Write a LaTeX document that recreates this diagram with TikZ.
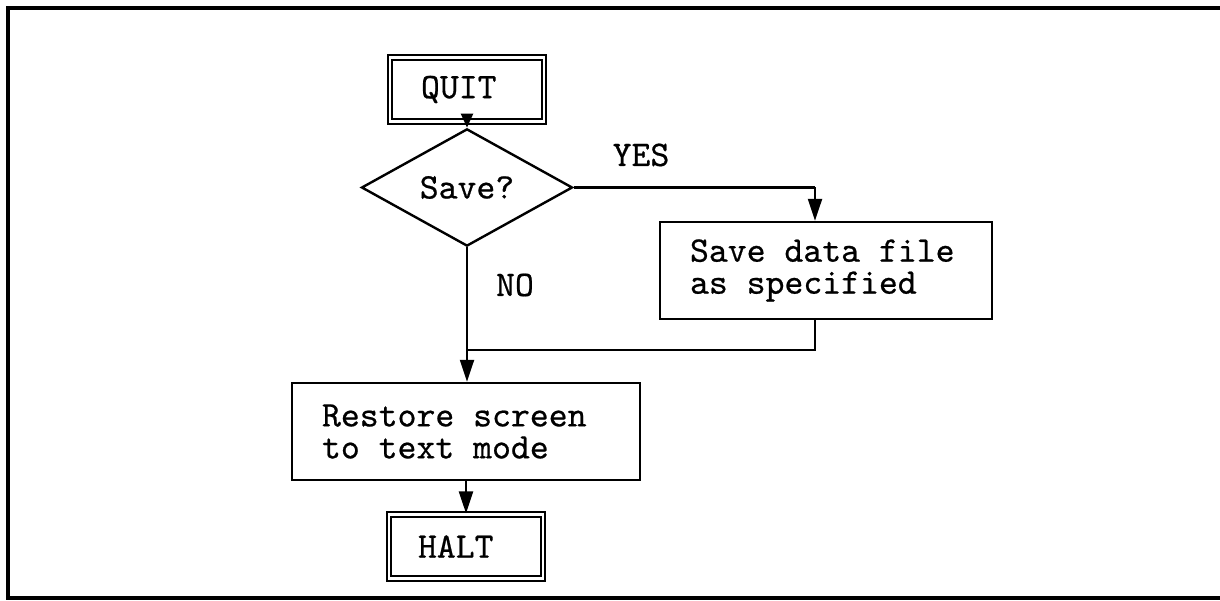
\documentclass[tikz,border=0pt]{standalone}
\usepackage{fontspec}
\newfontfamily\cour{lmmono10-regular.otf}[FakeBold=0.6, WordSpace={1,0,0}]
\usetikzlibrary{shapes.geometric,arrows.meta}

\tikzset{
  base/.style={font=\cour\fontsize{36}{32}\selectfont, inner sep=0pt,
               execute at begin node={\spaceskip=0.525em\relax}},
  procbox/.style={base, draw, line width=2.4pt, rectangle, align=left,
                  inner xsep=30pt, minimum height=97pt},
  termbox/.style={base, draw, line width=2.2pt, double=white, double distance=2.5pt,
                  rectangle, minimum width=154pt, minimum height=64pt},
  decision/.style={base, draw, line width=2.4pt, diamond},
  label/.style={base},
  flow/.style={line width=2.2pt, -{Triangle[length=22pt,width=14pt]}},
  wire/.style={line width=2.2pt},
}

\begin{document}
\begin{tikzpicture}[x=1pt,y=-1pt]
  \useasboundingbox (0,0) rectangle (1220,601);
  \clip (0,0) rectangle (1220,601);

  % outer frame
  \draw[line width=3.2pt] (8,8) rectangle (1226,598);

  % main column
  \node[termbox] (quit) at (467,89.5) {\makebox[92pt][l]{QUIT}};
  \node[decision, minimum width=211pt, minimum height=99pt] (save) at (467,187.5) {Save?};
  \node[procbox, text width=272pt] (savefile) at (826,270.5)
       {Save data file\\as specified};
  \node[procbox, text width=288pt] (restore) at (466,431.5)
       {Restore screen\\to text mode};
  \node[termbox] (halt) at (466,546.5) {\makebox[96pt][l]{HALT}};

  % branch labels
  \node[label] (yes) at (641,155) {YES};
  \node[label] (no) at (515,285) {NO};

  % junction points
  \coordinate (yesdrop) at (815,187.5);
  \coordinate (filedrop) at (815,319);
  \coordinate (merge) at (467,350);

  % connectors
  \draw[line width=2.2pt, -{Triangle[length=14pt,width=12pt]}] (quit.south) -- (save.north);
  \draw[wire] (save.east) -- (yesdrop);
  \draw[flow] (yesdrop) -- (yesdrop |- savefile.north);
  \draw[flow] (save.south) -- (save.south |- restore.north);
  \draw[wire] (filedrop) |- (merge);
  \draw[flow] (restore.south -| halt.north) -- (halt.north);
\end{tikzpicture}
\end{document}
